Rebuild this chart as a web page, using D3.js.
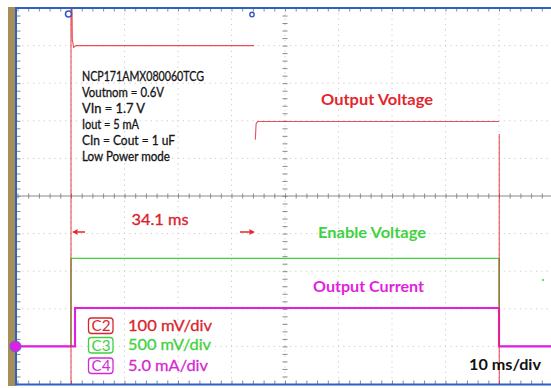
<!DOCTYPE html>
<html><head><meta charset="utf-8">
<script src="https://cdn.jsdelivr.net/npm/d3@7"></script>
<style>html,body{margin:0;padding:0;background:#fff;overflow:hidden}</style>
</head><body>
<svg id="c" width="551" height="388"></svg>
<script>
// ---- data (time in ms, channel values in physical units) ----
const redT   = [-10, 0, 0, 0.25, 0.5, 0.9, 34.2, 34.3, 34.45, 34.6, 34.9, 80.0, 80.05, 80.05, 80.05, 90];
const redV   = [-0.2, -0.2, 1.2, 0.815, 0.795, 0.80, 0.80, NaN, 0.55, 0.592, 0.598, 0.598, NaN, 0.565, -0.2, -0.2];
const greenT = [-10, 0, 0, 80, 80, 90];
const greenV = [0, 0, 1.17, 1.17, 0, 0];
const pinkT  = [-10, 0.75, 0.75, 80, 80, 90];
const pinkV  = [0, 0, 5.1, 5.1, 0, 0];
const chScale  = {red: 0.1, green: 0.5, pink: 5.0};   // units per division
const chOffset = -4;                                    // ground position (divisions)
const infoLines = ["NCP171AMX080060TCG", "Voutnom = 0.6V", "VIn = 1.7 V", "Iout = 5 mA", "CIn = Cout = 1 uF", "Low Power mode"];
const infoWidths = [122, 82, 63, 57, 93, 88];
const legendCh = ["C2", "C3", "C4"];
const legendTxt = ["100 mV/div", "500 mV/div", "5.0 mA/div"];
const legendW = [84, 83, 80];
const timeMajor = d3.range(-10, 90.01, 10);
const timeMinor = d3.range(-10, 90.01, 2);
const divMajor = d3.range(-5, 5.01, 1);
const divMinor = d3.range(-5, 5.01, 0.2);

const RED = "#e2262e", GREEN = "#3fd23f", PINK = "#e21fe0";
const svg = d3.select("#c");
const x = d3.scaleLinear().domain([-10, 90]).range([17.5, 552.5]);
const yd = d3.scaleLinear().domain([-5, 5]).range([384, 8]);
const yCh = (v, ch) => yd(v / chScale[ch] + chOffset);

// brown strip
svg.append("rect").attr("x", 8).attr("y", 7).attr("width", 7).attr("height", 379).attr("fill", "#a68e58");

// grid dotted lines
const g = svg.append("g");
g.selectAll(".vg").data(timeMajor.filter(t => t > -10)).join("line")
  .attr("x1", d => x(d)).attr("x2", d => x(d)).attr("y1", 8).attr("y2", 384)
  .attr("stroke", "#cacaca").attr("stroke-width", 1).attr("stroke-dasharray", "1.2,4.15");
g.selectAll(".hg").data(divMajor.filter(d => d > -5 && d < 5 && d !== 0)).join("line")
  .attr("x1", 17).attr("x2", 552).attr("y1", d => yd(d)).attr("y2", d => yd(d))
  .attr("stroke", "#cacaca").attr("stroke-width", 1).attr("stroke-dasharray", "1.2,4.15");

// center crosshair
const tickStyle = sel => { sel.select(".domain").remove(); sel.selectAll("line").attr("stroke", "#8a8a8a"); };
svg.append("line").attr("x1", 17).attr("x2", 552).attr("y1", yd(0)).attr("y2", yd(0)).attr("stroke", "#8a8a8a").attr("stroke-width", 1);
svg.append("g").attr("transform", `translate(0,${yd(0)})`).call(d3.axisBottom(x).tickValues(timeMinor).tickSize(2.5).tickFormat("")).call(tickStyle);
svg.append("g").attr("transform", `translate(0,${yd(0)})`).call(d3.axisTop(x).tickValues(timeMinor).tickSize(2.5).tickFormat("")).call(tickStyle);
svg.append("g").attr("transform", `translate(${x(40)},0)`).call(d3.axisLeft(yd).tickValues(divMinor).tickSize(2.5).tickFormat("")).call(tickStyle);
svg.append("g").attr("transform", `translate(${x(40)},0)`).call(d3.axisRight(yd).tickValues(divMinor).tickSize(2.5).tickFormat("")).call(tickStyle);

// border ticks
svg.append("g").attr("transform", "translate(0,8)").call(d3.axisTop(x).tickValues(timeMinor).tickSize(-3.5).tickFormat("")).call(tickStyle);
svg.append("g").attr("transform", "translate(0,384)").call(d3.axisBottom(x).tickValues(timeMinor).tickSize(-3.5).tickFormat("")).call(tickStyle);
svg.append("g").attr("transform", "translate(17,0)").call(d3.axisLeft(yd).tickValues(divMinor).tickSize(-3.5).tickFormat("")).call(tickStyle);

// blue frame
svg.append("line").attr("x1", 15).attr("x2", 551).attr("y1", 8).attr("y2", 8).attr("stroke", "#2e60c6").attr("stroke-width", 2);
svg.append("line").attr("x1", 15).attr("x2", 551).attr("y1", 384.5).attr("y2", 384.5).attr("stroke", "#2e60c6").attr("stroke-width", 2);
svg.append("line").attr("x1", 16).attr("x2", 16).attr("y1", 7).attr("y2", 385.5).attr("stroke", "#2e60c6").attr("stroke-width", 2);

// traces
svg.append("clipPath").attr("id", "clip").append("rect").attr("x", 17).attr("y", 9).attr("width", 540).attr("height", 375);
const tr = svg.append("g").attr("clip-path", "url(#clip)");
const mkLine = (T, V, ch) => d3.line().defined((d, i) => !isNaN(V[i])).x((d, i) => x(T[i])).y((d, i) => yCh(V[i], ch))(T);
tr.append("path").attr("d", mkLine(greenT, greenV, "green")).attr("fill", "none").attr("stroke", GREEN).attr("stroke-width", 1.4);
tr.append("path").attr("d", mkLine(pinkT, pinkV, "pink")).attr("fill", "none").attr("stroke", PINK).attr("stroke-width", 2.1);
tr.append("path").attr("d", mkLine(redT, redV, "red")).attr("fill", "none").attr("stroke", RED).attr("stroke-width", 1.1).attr("stroke-opacity", 0.8);

// markers
svg.append("circle").attr("cx", 68.5).attr("cy", 14).attr("r", 3).attr("fill", "#fff").attr("stroke", "#3a55c8").attr("stroke-width", 1.6);
svg.append("circle").attr("cx", 252).attr("cy", 14.5).attr("r", 2.2).attr("fill", "#fff").attr("stroke", "#3a55c8").attr("stroke-width", 1.4);
svg.append("circle").attr("cx", 15.5).attr("cy", yCh(0, "pink")).attr("r", 5.5).attr("fill", PINK).attr("stroke", "#4a6ad8").attr("stroke-width", 1);
svg.append("circle").attr("cx", 543).attr("cy", 280).attr("r", 1).attr("fill", GREEN);

// info text
const font = "Lato, 'Open Sans', sans-serif";
svg.append("g").selectAll("text").data(infoLines).join("text")
  .attr("x", 82).attr("y", (d, i) => 81 + i * 16).text(d => d)
  .attr("font-family", font).attr("font-size", 12.5).attr("fill", "#151515")
  .attr("stroke", "#151515").attr("stroke-width", 0.3)
  .attr("textLength", (d, i) => infoWidths[i]).attr("lengthAdjust", "spacingAndGlyphs");

// labels
const lab = (t, cx, by, w, col, bold, fs) => svg.append("text").attr("x", cx - w / 2).attr("y", by).text(t)
  .attr("font-family", font).attr("font-size", fs).attr("font-weight", bold ? 700 : 400).attr("fill", col)
  .attr("textLength", w).attr("lengthAdjust", "spacingAndGlyphs");
lab("Output Voltage", 377, 105, 112, RED, true, 15.5);
lab("Enable Voltage", 372, 238, 108, GREEN, true, 15.5);
lab("Output Current", 368.5, 292, 111, PINK, true, 15.5);
lab("34.1 ms", 160, 225, 57, "#d8202c", false, 15.5).attr("stroke", "#d8202c").attr("stroke-width", 0.3);
lab("10 ms/div", 505, 370, 72, "#111", true, 15.5);

// time marker arrows
const ay = 232;
svg.append("line").attr("x1", 74).attr("x2", 85).attr("y1", ay).attr("y2", ay).attr("stroke", RED).attr("stroke-width", 1.5);
svg.append("path").attr("d", `M72,${ay} L78,${ay - 3} L77,${ay} L78,${ay + 3} Z`).attr("fill", RED);
svg.append("line").attr("x1", 240).attr("x2", 252).attr("y1", ay).attr("y2", ay).attr("stroke", RED).attr("stroke-width", 1.5);
svg.append("path").attr("d", `M255,${ay} L249,${ay - 3} L250,${ay} L249,${ay + 3} Z`).attr("fill", RED);

// legend
const legCol = ["#d8262e", GREEN, "#d42ad2"];
const legY = [318, 337.5, 358];
legendCh.forEach((c, i) => {
  svg.append("rect").attr("x", 88.5).attr("y", legY[i]).attr("width", 24.5).attr("height", 15.5).attr("rx", 3)
    .attr("fill", "none").attr("stroke", legCol[i]).attr("stroke-width", 1.3);
  svg.append("text").attr("x", 91.5).attr("y", legY[i] + 13).text(c).attr("font-family", font).attr("font-size", 15)
    .attr("fill", legCol[i]).attr("textLength", 19).attr("lengthAdjust", "spacingAndGlyphs");
  svg.append("text").attr("x", 128).attr("y", legY[i] + 12.5).text(legendTxt[i]).attr("font-family", font).attr("font-size", 15.5)
    .attr("fill", legCol[i]).attr("stroke", legCol[i]).attr("stroke-width", 0.3)
    .attr("textLength", legendW[i]).attr("lengthAdjust", "spacingAndGlyphs");
});
</script>
</body></html>
